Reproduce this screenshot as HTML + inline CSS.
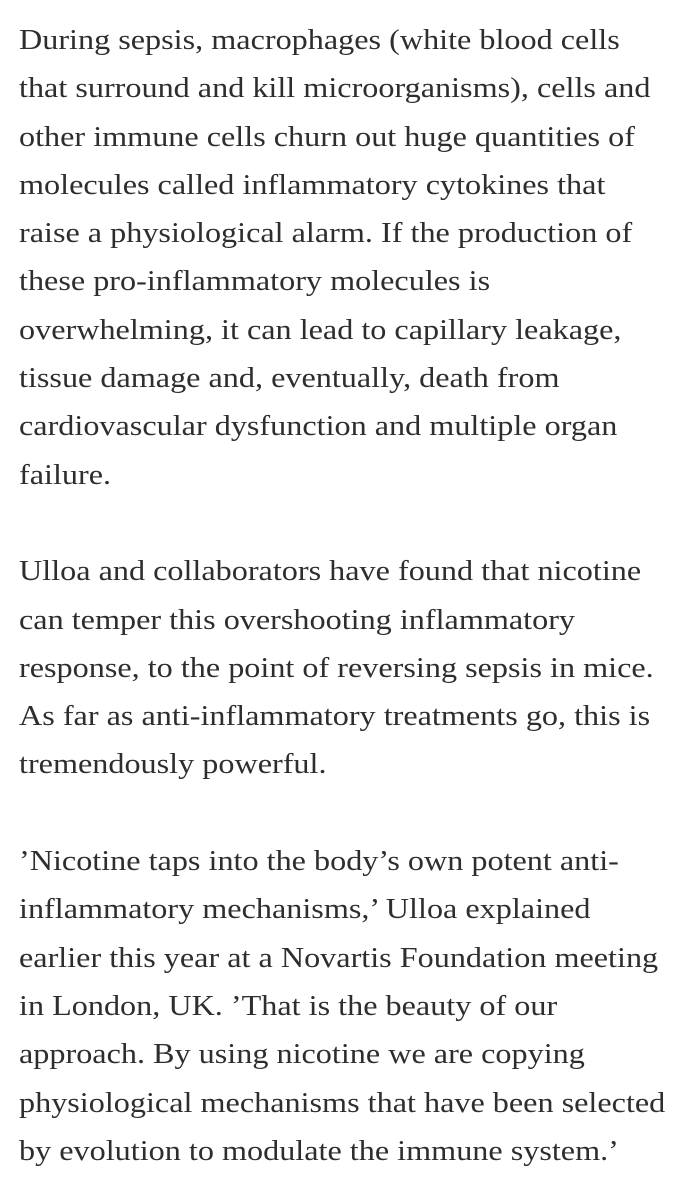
<!DOCTYPE html>
<html><head><meta charset="utf-8"><style>
html,body{margin:0;padding:0;background:#fff;width:685px;height:1200px;overflow:hidden}
.wrap{padding:16px 0 0 19px;font-family:"Liberation Serif",serif;font-size:29px;color:#2e2e2e;line-height:48.3px}
.p{margin:0 0 48.3px 0}
.l{white-space:nowrap;height:48.3px;transform:scaleX(1.11);transform-origin:0 50%}
</style></head><body>
<div class="wrap">
<div class="p">
<div class="l">During sepsis, macrophages (white blood cells</div>
<div class="l">that surround and kill microorganisms), cells and</div>
<div class="l">other immune cells churn out huge quantities of</div>
<div class="l">molecules called inflammatory cytokines that</div>
<div class="l">raise a physiological alarm. If the production of</div>
<div class="l">these pro-inflammatory molecules is</div>
<div class="l">overwhelming, it can lead to capillary leakage,</div>
<div class="l">tissue damage and, eventually, death from</div>
<div class="l">cardiovascular dysfunction and multiple organ</div>
<div class="l">failure.</div>
</div>
<div class="p">
<div class="l">Ulloa and collaborators have found that nicotine</div>
<div class="l">can temper this overshooting inflammatory</div>
<div class="l">response, to the point of reversing sepsis in mice.</div>
<div class="l">As far as anti-inflammatory treatments go, this is</div>
<div class="l">tremendously powerful.</div>
</div>
<div class="p">
<div class="l">’Nicotine taps into the body’s own potent anti-</div>
<div class="l">inflammatory mechanisms,’ Ulloa explained</div>
<div class="l">earlier this year at a Novartis Foundation meeting</div>
<div class="l">in London, UK. ’That is the beauty of our</div>
<div class="l">approach. By using nicotine we are copying</div>
<div class="l">physiological mechanisms that have been selected</div>
<div class="l">by evolution to modulate the immune system.’</div>
</div>
</div>
</body></html>
